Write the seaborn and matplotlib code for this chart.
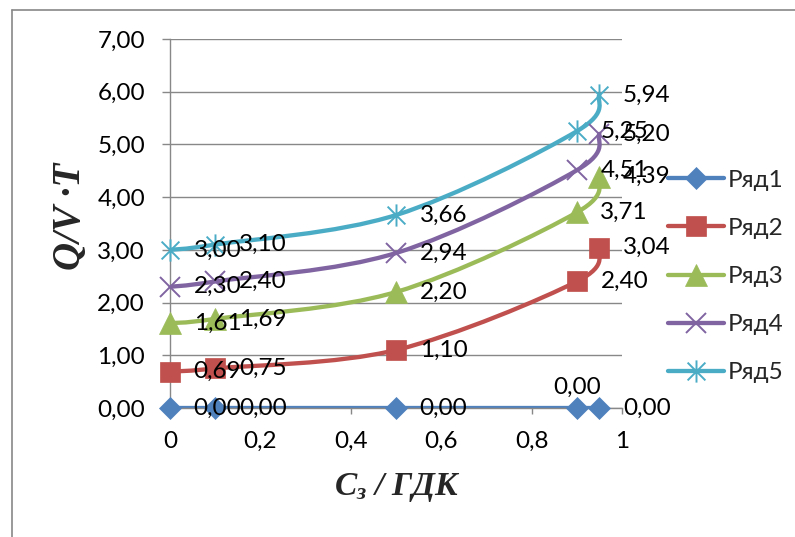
import numpy as np
import pandas as pd
import matplotlib
matplotlib.use("Agg")
import matplotlib.pyplot as plt
from matplotlib.path import Path
from matplotlib.patches import PathPatch
from matplotlib.lines import Line2D
import seaborn as sns

# ---------------- data ----------------
x_values = [0.0, 0.1, 0.5, 0.9, 0.95]
series_names = ["Ряд1", "Ряд2", "Ряд3", "Ряд4", "Ряд5"]
ryad1 = [0.00, 0.00, 0.00, 0.00, 0.00]
ryad2 = [0.69, 0.75, 1.10, 2.40, 3.04]
ryad3 = [1.61, 1.69, 2.20, 3.71, 4.39]
ryad4 = [2.30, 2.40, 2.94, 4.51, 5.20]
ryad5 = [3.00, 3.10, 3.66, 5.25, 5.94]
x_tick_values = [0.0, 0.2, 0.4, 0.6, 0.8, 1.0]
x_tick_labels = ["0", "0,2", "0,4", "0,6", "0,8", "1"]
y_tick_values = [0, 1, 2, 3, 4, 5, 6, 7]
y_tick_labels = ["0,00", "1,00", "2,00", "3,00", "4,00", "5,00", "6,00", "7,00"]
x_label = r"$\mathbfit{C}_{\mathbfit{з}}\mathbfit{\ /\ ГДК}$"
y_label = "Q/V ·T"

all_values = [ryad1, ryad2, ryad3, ryad4, ryad5]
df = pd.DataFrame(
    [(name, x, v) for name, vals in zip(series_names, all_values) for x, v in zip(x_values, vals)],
    columns=["series", "x", "value"],
)

# ---------------- style ----------------
sns.set_style("white")
plt.rcParams["font.family"] = ["Lato", "DejaVu Sans"]
plt.rcParams["mathtext.fontset"] = "custom"
plt.rcParams["mathtext.bfit"] = "Liberation Serif:italic:bold"
plt.rcParams["mathtext.rm"] = "Liberation Serif"
plt.rcParams["mathtext.it"] = "Liberation Serif:italic"
plt.rcParams["mathtext.bf"] = "Liberation Serif:bold"

GRID = "#888888"
FS = 17.5
LW = 3.1
colors = {"Ряд1": "#4F81BD", "Ряд2": "#C0504D", "Ряд3": "#9BBB59",
          "Ряд4": "#8064A2", "Ряд5": "#4BACC6"}

star = Path([(0, -1), (0, 1), (-0.8, -0.8), (0.8, 0.8), (-0.8, 0.8), (0.8, -0.8)],
            [Path.MOVETO, Path.LINETO, Path.MOVETO, Path.LINETO, Path.MOVETO, Path.LINETO])
marker_style = {
    "Ряд1": dict(marker="D", markersize=11, markerfacecolor=colors["Ряд1"], markeredgecolor=colors["Ряд1"], markeredgewidth=0.5),
    "Ряд2": dict(marker="s", markersize=14.5, markerfacecolor=colors["Ряд2"], markeredgecolor=colors["Ряд2"], markeredgewidth=0.5),
    "Ряд3": dict(marker="^", markersize=15.5, markerfacecolor=colors["Ряд3"], markeredgecolor=colors["Ряд3"], markeredgewidth=0.5),
    "Ряд4": dict(marker="x", markersize=14, markerfacecolor="none", markeredgecolor=colors["Ряд4"], markeredgewidth=1.4),
    "Ряд5": dict(marker=star, markersize=16, markerfacecolor="none", markeredgecolor=colors["Ряд5"], markeredgewidth=1.4),
}


def smooth_path(xs, ys):
    pts = np.column_stack([xs, ys]).astype(float)
    n = len(pts)
    verts = [pts[0]]
    codes = [Path.MOVETO]
    for i in range(n - 1):
        p0 = pts[i - 1] if i > 0 else pts[i]
        p1 = pts[i]
        p2 = pts[i + 1]
        p3 = pts[i + 2] if i + 2 < n else pts[i + 1]
        verts += [p1 + (p2 - p0) / 6.0, p2 - (p3 - p1) / 6.0, p2]
        codes += [Path.CURVE4] * 3
    return Path(verts, codes)


fig = plt.figure(figsize=(7.95, 5.37), dpi=100)
ax = fig.add_axes([0.2138, 0.2402, 0.5686, 0.6872])

for name in series_names:
    sub = df[df.series == name]
    ax.add_patch(PathPatch(smooth_path(sub.x.values, sub.value.values), fill=False,
                           edgecolor=colors[name], lw=LW, capstyle="round",
                           joinstyle="round", zorder=2))
    sns.lineplot(data=sub, x="x", y="value", ax=ax, color=colors[name], linewidth=0,
                 errorbar=None, zorder=3, legend=False, clip_on=False, **marker_style[name])

# data labels
for name in series_names:
    sub = df[df.series == name]
    for i, (x, v) in enumerate(zip(sub.x.values, sub.value.values)):
        txt = f"{v:.2f}".replace(".", ",")
        if name == "Ряд1" and i == 3:
            ax.annotate(txt, (x, v), xytext=(0, 15), textcoords="offset points",
                        ha="center", va="center", fontsize=FS, color="black", zorder=4)
        else:
            ax.annotate(txt, (x, v), xytext=(17, 0), textcoords="offset points",
                        ha="left", va="center", fontsize=FS, color="black", zorder=4)

ax.set_xlim(0, 1)
ax.set_ylim(0, 7)
ax.set_xticks(x_tick_values)
ax.set_xticklabels(x_tick_labels)
ax.set_yticks(y_tick_values)
ax.set_yticklabels(y_tick_labels)
ax.set_xlabel("")
ax.set_ylabel("")
ax.yaxis.grid(True, color=GRID, lw=1.0, zorder=0)
ax.xaxis.grid(False)
ax.set_axisbelow(True)
for s in ["top", "right"]:
    ax.spines[s].set_visible(False)
for s in ["left", "bottom"]:
    ax.spines[s].set_color(GRID)
    ax.spines[s].set_linewidth(1.0)
ax.tick_params(axis="y", direction="out", length=6, width=1.0, color=GRID,
               labelsize=FS, labelcolor="black", pad=12, left=True)
ax.tick_params(axis="x", direction="out", length=4.5, width=1.0, color=GRID,
               labelsize=FS, labelcolor="black", pad=12, bottom=True)

# legend
handles = [Line2D([], [], color=colors[n], lw=LW, **marker_style[n]) for n in series_names]
fig.legend(handles, series_names, loc="center left", bbox_to_anchor=(668 / 795, 1 - 276.5 / 537),
           frameon=False, fontsize=FS, handlelength=2.3, handletextpad=0.15,
           labelspacing=1.12, borderpad=0, borderaxespad=0)

# axis titles
fig.text(70.5 / 795, 1 - 216 / 537, y_label, rotation=90, ha="center", va="center",
         fontsize=28, fontweight="bold", fontstyle="italic", family="Liberation Serif")
fig.text(397 / 795, 1 - 487 / 537, x_label, ha="center", va="center", fontsize=24)

# chart-area frame (cropped)
fig.add_artist(Line2D([12 / 795, 12 / 795], [0, 1 - 10 / 537], transform=fig.transFigure,
                      color=GRID, lw=1.2))
fig.add_artist(Line2D([12 / 795, 1], [1 - 10 / 537, 1 - 10 / 537], transform=fig.transFigure,
                      color=GRID, lw=1.2))

fig.savefig("out.png", dpi=100)
